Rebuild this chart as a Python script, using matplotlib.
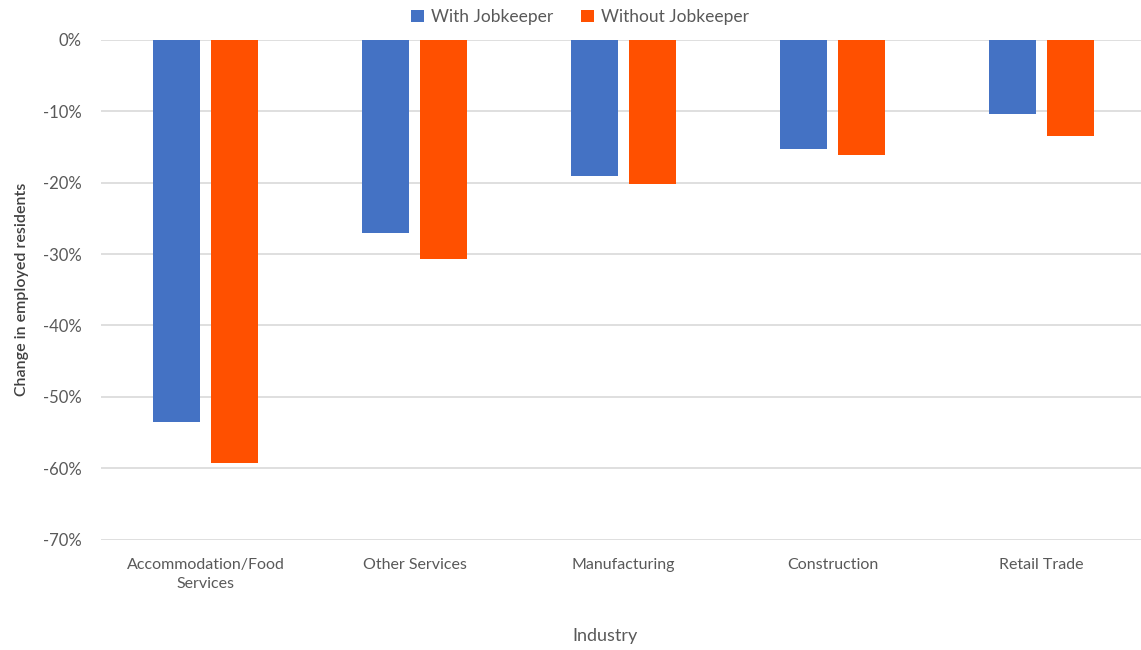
import matplotlib.pyplot as plt
import numpy as np
from matplotlib.ticker import FuncFormatter

plt.rcParams['font.family'] = ['Lato', 'DejaVu Sans']

industries = ['Accommodation/Food\nServices', 'Other Services', 'Manufacturing',
              'Construction', 'Retail Trade']
with_jk = [-53.5, -27.1, -19.1, -15.3, -10.4]
without_jk = [-59.3, -30.7, -20.2, -16.1, -13.5]

blue = '#4472C4'
orange = '#FF5000'
grey = '#595959'

fig = plt.figure(figsize=(11.41, 6.5), dpi=100)
ax = fig.add_axes([0.0885, 0.17, 0.916, 0.7685])

x = np.arange(len(industries))
w = 0.225
off = 0.14
ax.bar(x - off, with_jk, w, color=blue, label='With Jobkeeper', zorder=3)
ax.bar(x + off, without_jk, w, color=orange, label='Without Jobkeeper', zorder=3)

ax.set_xlim(-0.5, len(industries) - 0.5)
ax.set_ylim(-70, 0)
ax.set_yticks(np.arange(-70, 1, 10))
ax.yaxis.set_major_formatter(FuncFormatter(lambda v, p: f'{v:.0f}%'))
ax.grid(axis='y', color='#d9d9d9', linewidth=1.2, zorder=0)
ax.set_xticks(x)
ax.set_xticklabels(industries, fontsize=11.5, color=grey, linespacing=1.5)
ax.tick_params(axis='y', labelsize=12, colors=grey, length=0, pad=14)
ax.tick_params(axis='x', length=0, pad=13)
for s in ax.spines.values():
    s.set_visible(False)

fig.text(605 / 1141, 1 - 636 / 650, 'Industry', fontsize=13, color=grey,
         ha='center', va='center')
ax.set_ylabel('Change in employed residents', fontsize=11.5, color='#404040',
              fontweight='semibold', labelpad=10)

fig.legend(*ax.get_legend_handles_labels(), loc='center', bbox_to_anchor=(0.508, 1 - 17 / 650),
           ncol=2, frameon=False, fontsize=12.5, labelcolor=grey, handlelength=0.75,
           handleheight=0.75, handletextpad=0.4, columnspacing=1.6, borderaxespad=0)

fig.savefig('out.png', dpi=100)
